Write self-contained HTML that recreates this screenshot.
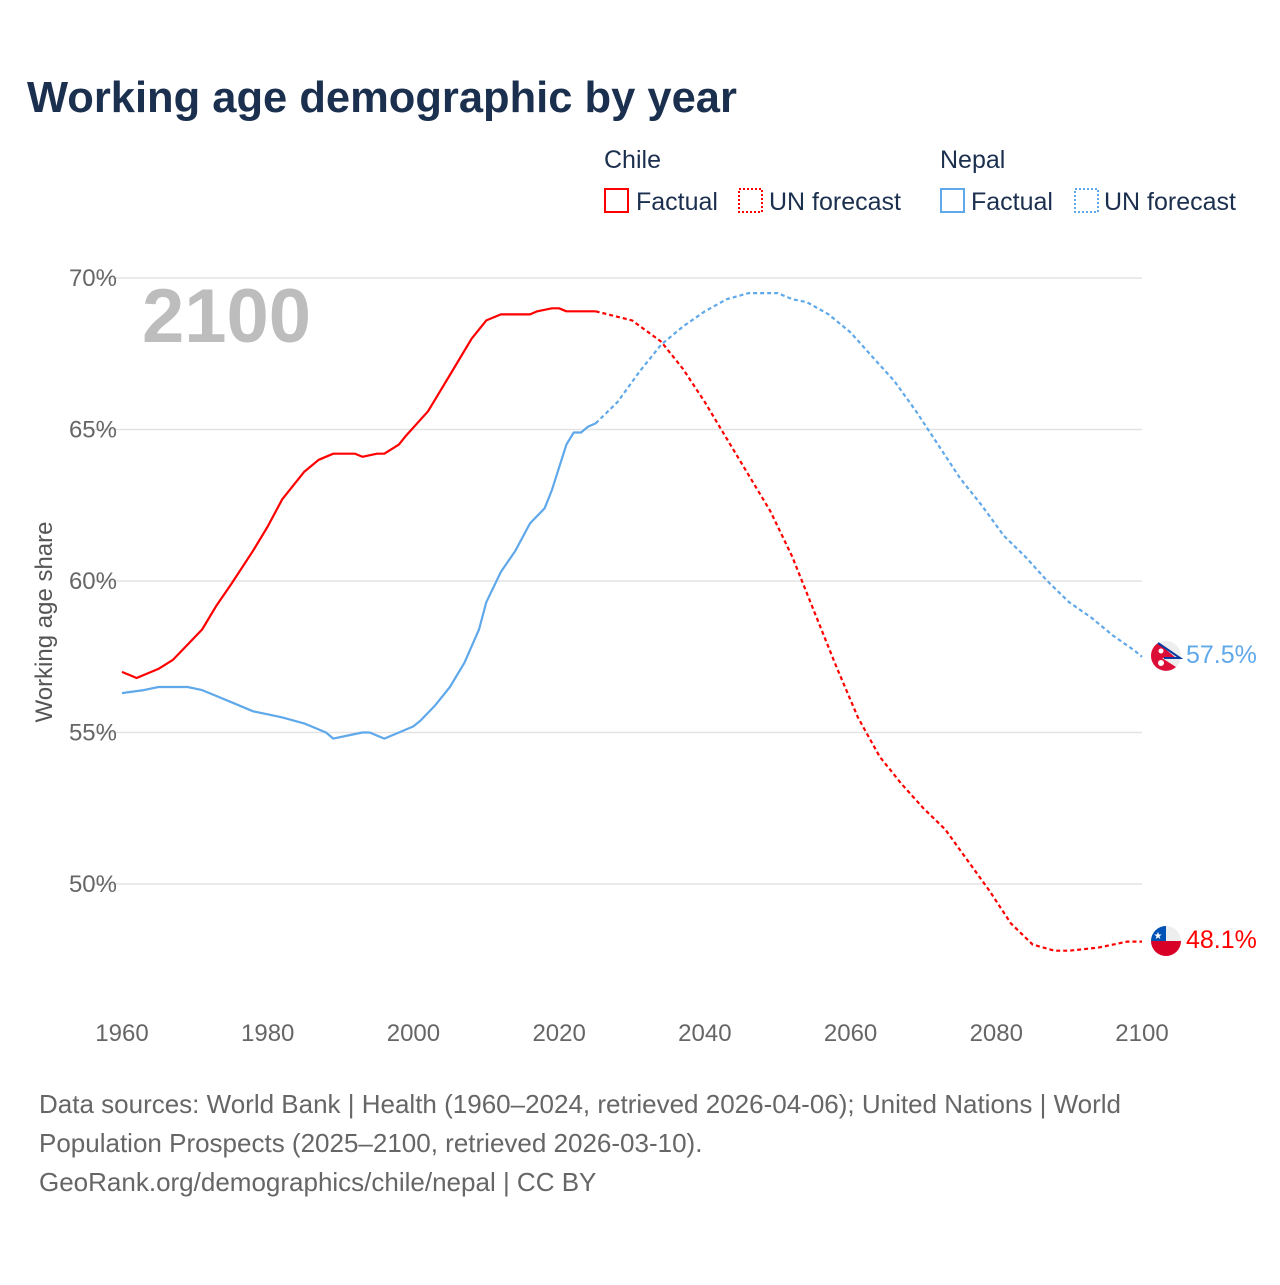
<!DOCTYPE html>
<html><head><meta charset="utf-8"><style>
body{margin:0;background:#fff;font-family:"Liberation Sans",sans-serif}
svg text{font-family:"Liberation Sans",sans-serif}
</style></head><body>
<svg width="1280" height="1280" viewBox="0 0 1280 1280">
<text x="27" y="112" font-size="43.5" font-weight="bold" fill="#1b2f4e">Working age demographic by year</text>
<g font-size="25" fill="#1b2f4e">
<text x="604" y="168">Chile</text>
<rect x="605" y="189" width="23" height="23" fill="none" stroke="#f00" stroke-width="2"/>
<text x="636" y="210">Factual</text>
<rect x="739" y="189" width="23" height="23" fill="none" stroke="#f00" stroke-width="2" stroke-dasharray="2,2"/>
<text x="769" y="210">UN forecast</text>
<text x="940" y="168">Nepal</text>
<rect x="941" y="189" width="23" height="23" fill="none" stroke="#5fa8ea" stroke-width="2"/>
<text x="971" y="210">Factual</text>
<rect x="1075" y="189" width="23" height="23" fill="none" stroke="#5fa8ea" stroke-width="2" stroke-dasharray="2,2"/>
<text x="1104" y="210">UN forecast</text>
</g>
<g id="grid"></g>
<text x="142" y="342" font-size="76" font-weight="bold" fill="#bdbdbd">2100</text>
<text transform="translate(52,622) rotate(-90)" text-anchor="middle" font-size="24" fill="#555">Working age share</text>
<g id="plot"></g>
<g>
<circle cx="1166" cy="656" r="15" fill="#eee"/>
<path d="M1151,656 A15,15 0 0 1 1158,643 L1176,658 L1162,658 L1176,667 A15,15 0 0 1 1151,656Z" fill="#dc0d37"/>
<path d="M1158,643 L1180,658 L1164,658" fill="none" stroke="#0a3aa0" stroke-width="2"/>
<circle cx="1161" cy="651" r="2.5" fill="#fff"/><circle cx="1161" cy="663" r="3" fill="#fff"/>
</g>
<g>
<clipPath id="cc"><circle cx="1166" cy="941" r="15"/></clipPath>
<g clip-path="url(#cc)"><rect x="1151" y="926" width="30" height="30" fill="#eee"/><rect x="1151" y="941" width="30" height="15" fill="#d80027"/><rect x="1151" y="926" width="15" height="15" fill="#0052b4"/></g>
<text x="1158" y="939" font-size="10" fill="#fff" text-anchor="middle">★</text>
</g>
<text x="1186" y="663" font-size="25" fill="#5fa8ea">57.5%</text>
<text x="1186" y="948" font-size="25" fill="#f00">48.1%</text>
<g font-size="26" fill="#666">
<text x="39" y="1113">Data sources: World Bank | Health (1960–2024, retrieved 2026-04-06); United Nations | World</text>
<text x="39" y="1152">Population Prospects (2025–2100, retrieved 2026-03-10).</text>
<text x="39" y="1191">GeoRank.org/demographics/chile/nepal | CC BY</text>
</g>
</svg>
<script>
const xTicks=[1960,1980,2000,2020,2040,2060,2080,2100];
const yTicks=[50,55,60,65,70];
const chileFactYears=[1960,1962,1965,1967,1969,1971,1973,1975,1978,1980,1982,1985,1987,1989,1992,1993,1995,1996,1998,1999,2002,2005,2008,2010,2012,2016,2017,2019,2020,2021,2024,2025];
const chileFactVals=[57.0,56.8,57.1,57.4,57.9,58.4,59.2,59.9,61.0,61.8,62.7,63.6,64.0,64.2,64.2,64.1,64.2,64.2,64.5,64.8,65.6,66.8,68.0,68.6,68.8,68.8,68.9,69.0,69.0,68.9,68.9,68.9];
const chileFcYears=[2025,2030,2034,2037,2040,2043,2046,2049,2052,2055,2058,2061,2064,2067,2070,2073,2076,2079,2082,2085,2088,2090,2094,2098,2100];
const chileFcVals=[68.9,68.6,67.9,67.0,65.9,64.7,63.5,62.3,60.8,59.0,57.2,55.5,54.2,53.3,52.5,51.8,50.8,49.8,48.7,48.0,47.8,47.8,47.9,48.1,48.1];
const nepalFactYears=[1960,1963,1965,1969,1971,1973,1975,1978,1980,1982,1985,1988,1989,1991,1993,1994,1996,1998,2000,2001,2003,2005,2007,2009,2010,2012,2014,2016,2018,2019,2021,2022,2023,2024,2025];
const nepalFactVals=[56.3,56.4,56.5,56.5,56.4,56.2,56.0,55.7,55.6,55.5,55.3,55.0,54.8,54.9,55.0,55.0,54.8,55.0,55.2,55.4,55.9,56.5,57.3,58.4,59.3,60.3,61.0,61.9,62.4,63.0,64.5,64.9,64.9,65.1,65.2];
const nepalFcYears=[2025,2028,2031,2034,2037,2040,2043,2046,2050,2052,2054,2057,2060,2063,2066,2069,2072,2075,2078,2081,2084,2087,2090,2093,2096,2099,2100];
const nepalFcVals=[65.2,65.9,66.9,67.8,68.4,68.9,69.3,69.5,69.5,69.3,69.2,68.8,68.2,67.4,66.6,65.6,64.5,63.4,62.5,61.5,60.8,60.0,59.3,58.8,58.2,57.7,57.5];
const X=y=>122+(y-1960)*1020/140;
const Y=v=>278+(70-v)*30.3;
const NS='http://www.w3.org/2000/svg';
const grid=document.getElementById('grid'),plot=document.getElementById('plot');
yTicks.forEach(t=>{
 const l=document.createElementNS(NS,'line');
 l.setAttribute('x1',95);l.setAttribute('x2',1142);l.setAttribute('y1',Y(t));l.setAttribute('y2',Y(t));
 l.setAttribute('stroke','#e3e3e3');l.setAttribute('stroke-width','1.5');
 
 
 grid.appendChild(l);
 const tx=document.createElementNS(NS,'text');
 tx.setAttribute('x',117);tx.setAttribute('y',Y(t)+8);tx.setAttribute('text-anchor','end');
 tx.setAttribute('font-size','24');tx.setAttribute('fill','#666');tx.textContent=t+'%';
 
 
 grid.appendChild(tx);
});
xTicks.forEach(t=>{
 const tx=document.createElementNS(NS,'text');
 tx.setAttribute('x',X(t));tx.setAttribute('y',1041);tx.setAttribute('text-anchor','middle');
 tx.setAttribute('font-size','24');tx.setAttribute('fill','#666');tx.textContent=t;
 
 
 grid.appendChild(tx);
});
function line(ys,vs,color,dash,name){
 const p=document.createElementNS(NS,'path');
 p.setAttribute('d',ys.map((y,i)=>(i?'L':'M')+X(y).toFixed(1)+','+Y(vs[i]).toFixed(1)).join(''));
 p.setAttribute('fill','none');p.setAttribute('stroke',color);p.setAttribute('stroke-width','2.2');
 p.setAttribute('stroke-linejoin','round');
 if(dash)p.setAttribute('stroke-dasharray','4,3');
 
 
 plot.appendChild(p);
}
line(nepalFactYears,nepalFactVals,'#5fa8ea',false,'nepal-factual-line');
line(nepalFcYears,nepalFcVals,'#5fa8ea',true,'nepal-forecast-line');
line(chileFactYears,chileFactVals,'#ff0000',false,'chile-factual-line');
line(chileFcYears,chileFcVals,'#ff0000',true,'chile-forecast-line');
</script>
</body></html>
